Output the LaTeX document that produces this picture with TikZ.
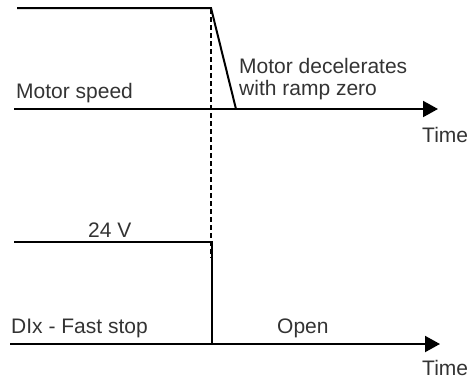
\documentclass[tikz,border=0pt]{standalone}
\usepackage{fontspec}
\setmainfont{Liberation Sans}
\usetikzlibrary{arrows.meta}
\begin{document}
\begin{tikzpicture}[x=1pt,y=-1pt,
  sig/.style={line width=2pt},
  axis/.style={line width=2pt,-{Triangle[length=15pt,width=16pt]}},
  guide/.style={line width=1.8pt,dash pattern=on 5pt off 3pt},
  lbl/.style={anchor=base west,inner sep=0pt,text=black!80,font=\fontsize{21}{23}\selectfont}]
\useasboundingbox (0,0) rectangle (476,380);
% top: motor speed
\coordinate (s0) at (17,8);
\coordinate (s1) at (211,8);
\coordinate (s2) at (236,109);
\coordinate (a0) at (14,109);
\coordinate (a1) at (438,109);
\draw[sig] (s0) -- (s1) -- (s2);
\draw[axis] (a0) -- (a1);
% dotted guide
\coordinate (g0) at (211,9);
\coordinate (g1) at (211,258);
\draw[guide] (g0) -- (g1);
% bottom: DIx
\coordinate (d0) at (14,242);
\coordinate (d1) at (212,242);
\coordinate (d2) at (212,344);
\coordinate (b0) at (10,344);
\coordinate (b1) at (440,344);
\draw[sig] (d0) -- (d1) -- (d2);
\draw[axis] (b0) -- (b1);
% labels
\node[lbl] (ms) at (16,98) {Motor speed};
\node[lbl] (md1) at (239,73) {Motor decelerates};
\node[lbl] (md2) at (239,95) {with ramp zero};
\node[lbl] (t1) at (422,142) {Time};
\node[lbl] (v) at (88,237) {24 V};
\node[lbl] (fs) at (11,333) {DIx - Fast stop};
\node[lbl] (op) at (277,333) {Open};
\node[lbl] (t2) at (422,375) {Time};
\end{tikzpicture}
\end{document}
